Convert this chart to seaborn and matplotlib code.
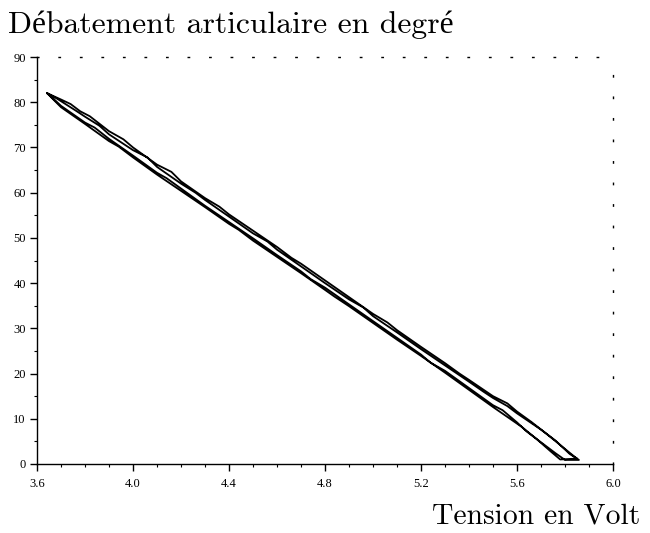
import matplotlib
matplotlib.use("Agg")
import matplotlib.pyplot as plt
import seaborn as sns
import pandas as pd
from matplotlib.ticker import MultipleLocator, FormatStrFormatter

# ---- data (hysteresis loop, two cycles) ----
volt_down1 = [3.642, 3.70, 3.74, 3.78, 3.82, 3.90, 3.96, 4.00, 4.10, 4.16, 4.20, 4.30, 4.36, 4.40, 4.50,
              4.60, 4.66, 4.70, 4.80, 4.90, 5.00, 5.06, 5.10, 5.20, 5.30, 5.36, 5.40, 5.50, 5.56,
              5.60, 5.66, 5.72, 5.78, 5.84, 5.858]
angle_down1 = [82.0, 80.6, 79.6, 78.0, 76.9, 73.6, 71.8, 70.0, 66.2, 64.6, 62.5, 58.8, 56.9, 55.2, 51.6,
               48.0, 45.6, 44.3, 40.6, 36.9, 33.2, 31.3, 29.6, 25.9, 22.3, 20.0, 18.6, 15.0, 13.4,
               11.6, 9.3, 6.8, 4.2, 1.6, 0.9]

volt_up1 = [5.858, 5.80, 5.76, 5.70, 5.64, 5.60, 5.54, 5.50, 5.40, 5.30, 5.24, 5.20, 5.10, 5.00, 4.90,
            4.80, 4.74, 4.70, 4.60, 4.50, 4.40, 4.30, 4.20, 4.14, 4.10, 4.00, 3.90, 3.84, 3.80, 3.70,
            3.66, 3.642]
angle_up1 = [0.9, 0.9, 2.4, 4.8, 7.2, 9.2, 11.9, 13.0, 16.8, 20.6, 22.4, 24.2, 27.9, 31.6, 35.3,
             39.0, 40.9, 42.6, 46.2, 49.9, 53.5, 57.1, 60.9, 63.2, 64.4, 68.2, 71.9, 74.4, 75.5, 79.2,
             81.2, 82.0]

volt_down2 = [3.642, 3.68, 3.76, 3.80, 3.86, 3.90, 4.00, 4.06, 4.10, 4.20, 4.26, 4.30, 4.40, 4.50,
              4.56, 4.60, 4.70, 4.80, 4.90, 4.96, 5.00, 5.10, 5.20, 5.30, 5.40, 5.46, 5.50, 5.56,
              5.60, 5.70, 5.76, 5.82, 5.85]
angle_down2 = [82.0, 80.9, 78.2, 76.8, 74.8, 72.9, 69.4, 67.8, 65.7, 62.0, 60.0, 58.4, 54.7, 51.0,
               49.2, 47.4, 43.7, 40.0, 36.4, 34.6, 32.7, 29.1, 25.4, 21.8, 18.2, 16.0, 14.6, 12.8,
               11.2, 7.6, 5.2, 2.2, 1.2]

volt_up2 = [5.85, 5.78, 5.74, 5.68, 5.62, 5.56, 5.50, 5.40, 5.34, 5.30, 5.20, 5.10, 5.00, 4.90,
            4.84, 4.80, 4.70, 4.60, 4.50, 4.44, 4.40, 4.30, 4.20, 4.10, 4.00, 3.94, 3.90, 3.80,
            3.70, 3.642]
angle_up2 = [1.2, 1.0, 2.8, 5.6, 8.2, 10.4, 12.6, 16.4, 18.7, 20.2, 23.9, 27.5, 31.2, 34.9,
             37.0, 38.5, 42.2, 45.8, 49.4, 51.8, 53.1, 56.8, 60.4, 64.0, 67.8, 70.2, 71.4, 75.2,
             78.9, 82.0]

x_ticks = [3.6, 4.0, 4.4, 4.8, 5.2, 5.6, 6.0]
y_ticks = [0, 10, 20, 30, 40, 50, 60, 70, 80, 90]

title_text = "Débatement articulaire en degré"
xlabel_text = "Tension en Volt"

volts = volt_down1 + volt_up1 + volt_down2 + volt_up2
angles = angle_down1 + angle_up1 + angle_down2 + angle_up2
df = pd.DataFrame({"volt": volts, "angle": angles})

sns.set_style("white")
plt.rcParams["font.family"] = ["Liberation Serif", "DejaVu Serif"]
plt.rcParams["text.color"] = "black"

fig = plt.figure(figsize=(6.5, 5.33), dpi=100)
ax = fig.add_axes([37 / 650, 1 - 464 / 533, 576 / 650, 407 / 533])

sns.lineplot(data=df, x="volt", y="angle", sort=False, estimator=None,
             color="black", linewidth=1.3, ax=ax)

ax.set_xlim(3.6, 6.0)
ax.set_ylim(0, 90)
ax.set_xticks(x_ticks)
ax.set_yticks(y_ticks)
ax.xaxis.set_major_formatter(FormatStrFormatter("%.1f"))
ax.xaxis.set_minor_locator(MultipleLocator(0.1))
ax.yaxis.set_minor_locator(MultipleLocator(5))
ax.tick_params(axis="both", which="both", bottom=True, left=True, top=False, right=False)
ax.tick_params(axis="both", which="major", direction="out", length=5, width=1,
               color="black", labelsize=9, labelcolor="black")
ax.tick_params(axis="both", which="minor", direction="out", length=2.5, width=0.8, color="black")
ax.tick_params(axis="x", which="major", pad=5)
ax.tick_params(axis="y", which="major", pad=3)
ax.set_xlabel("")
ax.set_ylabel("")

for s in ["left", "bottom"]:
    ax.spines[s].set_color("black")
    ax.spines[s].set_linewidth(1.0)
for s in ["top", "right"]:
    ax.spines[s].set_color("black")
    ax.spines[s].set_linewidth(1.0)
    ax.spines[s].set_linestyle((0, (1, 14.5)))

fig.text(8 / 650, 1 - 33 / 533, title_text, fontsize=22.8, color="black",
         family=["cmr10", "Liberation Serif"], ha="left", va="baseline")
fig.text(640 / 650, 1 - 524 / 533, xlabel_text, fontsize=21.3, color="black",
         family=["cmr10", "Liberation Serif"], ha="right", va="baseline")

fig.savefig("out.png", dpi=100, facecolor="white")
